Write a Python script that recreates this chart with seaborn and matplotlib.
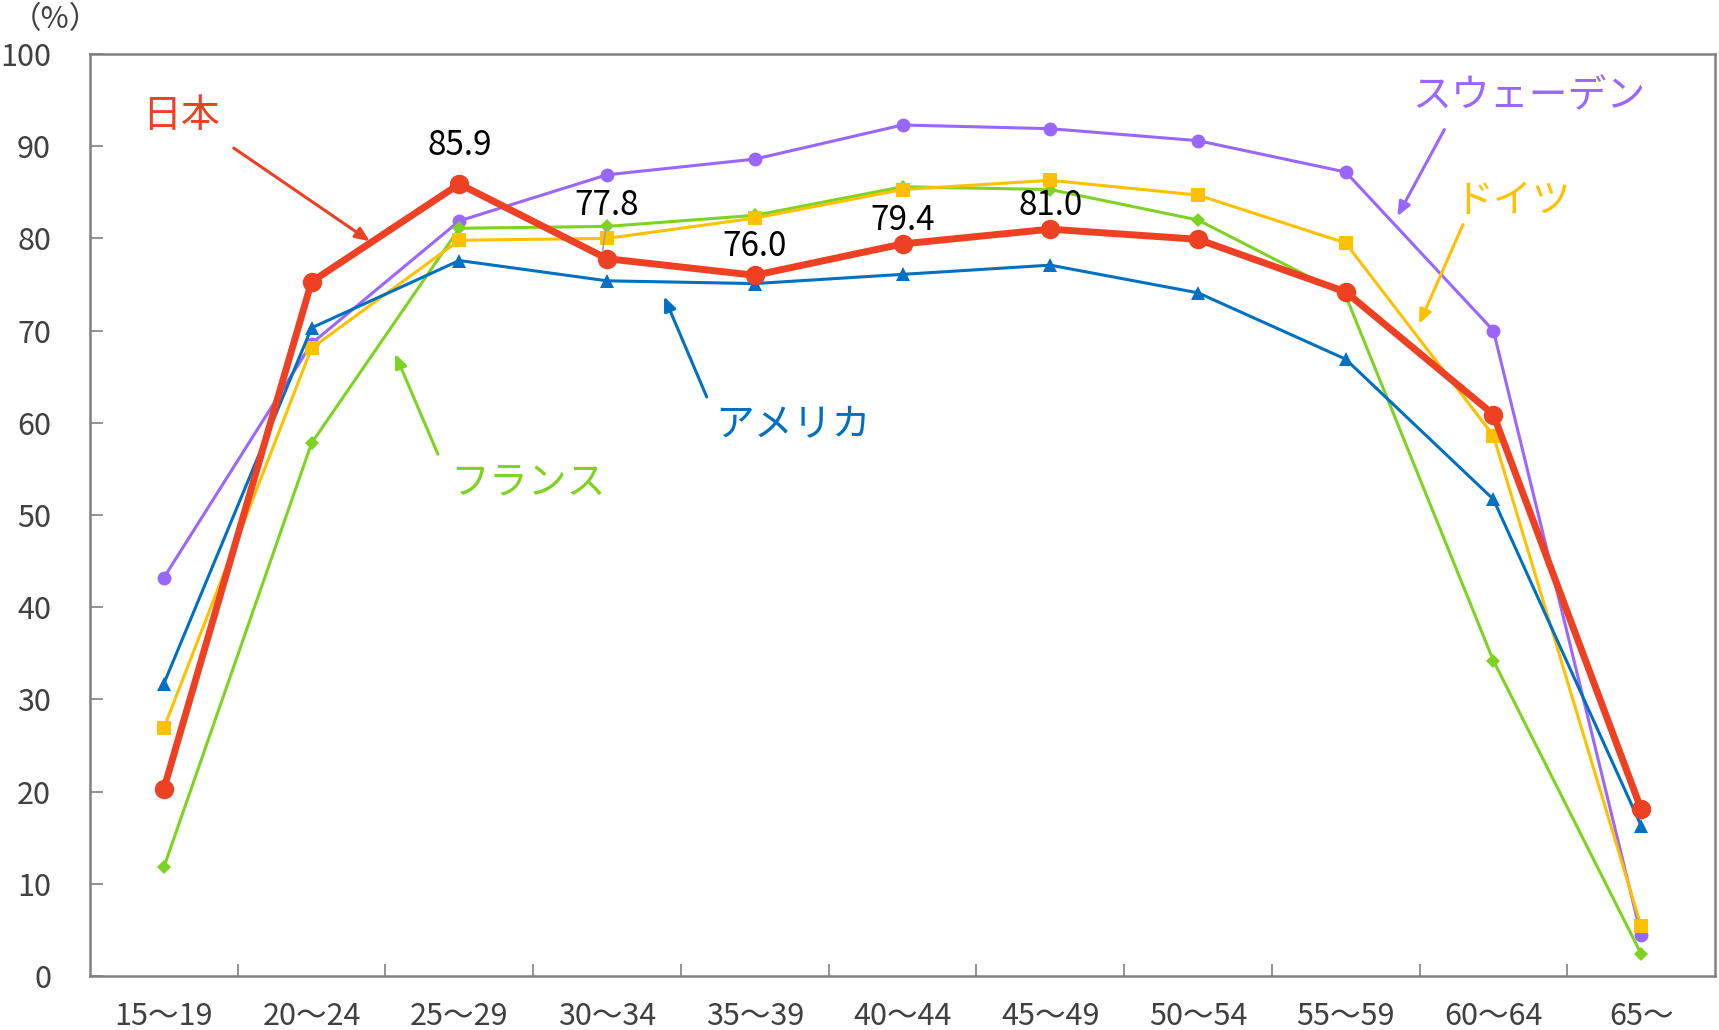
import matplotlib
matplotlib.use("Agg")
import matplotlib.pyplot as plt
import seaborn as sns
import pandas as pd

# Age groups and labour force participation rates (%) by country
age_groups = ["15～19", "20～24", "25～29", "30～34", "35～39", "40～44",
              "45～49", "50～54", "55～59", "60～64", "65～"]
japan = [20.3, 75.3, 85.9, 77.8, 76.0, 79.4, 81.0, 79.9, 74.2, 60.9, 18.1]
sweden = [43.2, 68.6, 81.9, 86.9, 88.6, 92.3, 91.9, 90.6, 87.2, 70.0, 4.4]
germany = [26.9, 68.1, 79.8, 80.0, 82.2, 85.3, 86.3, 84.7, 79.5, 58.6, 5.4]
france = [11.8, 57.8, 81.1, 81.3, 82.5, 85.6, 85.3, 82.0, 73.8, 34.2, 2.4]
usa = [31.7, 70.3, 77.6, 75.4, 75.1, 76.1, 77.1, 74.1, 66.9, 51.7, 16.3]

# Japan values printed above the line
japan_labels_idx = [2, 3, 4, 5, 6]

sns.set_theme(style="white")
plt.rcParams["font.family"] = ["Noto Sans CJK JP", "DejaVu Sans"]
num_font = ["Noto Sans CJK JP", "DejaVu Sans"]

fig = plt.figure(figsize=(17.19, 10.30), dpi=100)
ax = fig.add_axes([90 / 1719, 1 - 976 / 1030, (1715 - 90) / 1719, (976 - 54) / 1030])

x = list(range(len(age_groups)))

series = [
    ("スウェーデン", sweden, "#9966FF", "o", 10, 2.2),
    ("フランス", france, "#7ED321", "D", 7.5, 2.2),
    ("ドイツ", germany, "#FFC000", "s", 10, 2.2),
    ("アメリカ", usa, "#0070C0", "^", 10, 2.2),
    ("日本", japan, "#EE4023", "o", 14, 5.0),
]

for name, vals, color, marker, ms, lw in series:
    df = pd.DataFrame({"x": x, "y": vals})
    sns.lineplot(data=df, x="x", y="y", ax=ax, color=color, marker=marker,
                 markersize=ms, linewidth=lw, markeredgewidth=0, sort=False,
                 legend=False)

# Value labels for Japan
label_pos = {2: 90.1, 3: 83.6, 4: 79.1, 5: 81.9, 6: 83.6}
for i in japan_labels_idx:
    ax.text(x[i], label_pos[i], f"{japan[i]:.1f}", ha="center", va="center",
            fontsize=24, color="black", family=num_font)
# thin leader from the 77.8 label to its point
ax.plot([2.99, 2.97], [81.0, 78.6], color="#A0A0A0", linewidth=1.2)

# Country name callouts with arrows
callouts = [
    ("日本", "#EE4023", (0.117, 93.3), (0.473, 89.8), (1.394, 79.7)),
    ("スウェーデン", "#9966FF", (9.24, 95.4), (8.668, 91.8), (8.35, 82.4)),
    ("ドイツ", "#FFC000", (9.128, 84.1), (8.794, 81.5), (8.497, 70.7)),
    ("アメリカ", "#0070C0", (4.262, 59.7), (3.675, 62.8), (3.386, 73.7)),
    ("フランス", "#7ED321", (2.464, 53.5), (1.855, 56.6), (1.565, 67.5)),
]
for text, color, tpos, tail, head in callouts:
    ax.text(tpos[0], tpos[1], text, color=color, fontsize=28,
            ha="center", va="center")
    ax.annotate("", xy=head, xytext=tail,
                arrowprops=dict(arrowstyle="-|>,head_length=0.7,head_width=0.3",
                                color=color, lw=2.2, shrinkA=0, shrinkB=0))

ax.set_xlim(-0.5, 10.5)
ax.set_ylim(0, 100)
ax.set_yticks(range(0, 101, 10))
ax.set_xticks(x)
ax.set_xticklabels(age_groups, family=num_font, fontsize=22, color="#404040")
ax.set_xticks([i + 0.5 for i in range(10)], minor=True)
ax.tick_params(axis="x", which="major", length=0, pad=18)
ax.tick_params(axis="x", which="minor", direction="in", length=9, width=1.2,
               color="#808080", bottom=True)
ax.tick_params(axis="y", which="major", direction="in", length=9, width=1.2,
               color="#808080", left=True, pad=28, labelsize=22,
               labelcolor="#404040")
ax.set_xlabel("")
ax.set_ylabel("")
for side in ["left", "bottom", "top", "right"]:
    ax.spines[side].set_visible(True)
    ax.spines[side].set_color("#808080")
    ax.spines[side].set_linewidth(1.8)

fig.text(55 / 1719, 1 - 20 / 1030, "（%）", ha="center", va="center",
         fontsize=22, color="#404040")

fig.savefig("out.png", dpi=100)
